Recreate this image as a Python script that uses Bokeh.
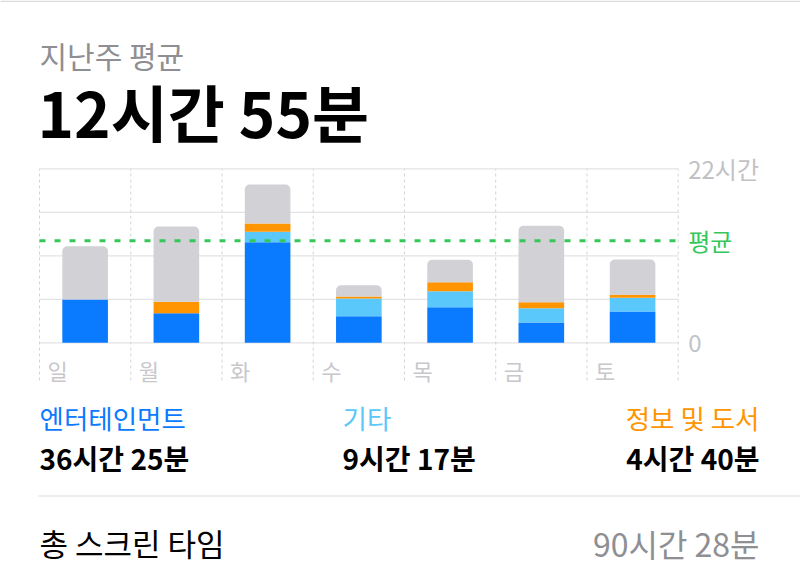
from bokeh.plotting import figure
from bokeh.models import Range1d, ColumnDataSource
from bokeh.core.properties import value
from bokeh.embed import file_html
from bokeh.resources import INLINE

# ---------------- data (hours) ----------------
days = ["일", "월", "화", "수", "목", "금", "토"]
entertainment = [5.47, 3.74, 12.72, 3.36, 4.50, 2.57, 3.96]
other = [0.00, 0.00, 1.31, 2.24, 2.02, 1.81, 1.73]
info_books = [0.00, 1.44, 1.05, 0.25, 1.14, 0.76, 0.38]
day_total = [12.20, 14.70, 20.00, 7.28, 10.49, 14.79, 10.53]
average = 12 + 55 / 60
y_ticks = [0, 5.5, 11, 16.5, 22]
y_tick_labels = {0: "0", 22: "22시간"}

title_small = "지난주 평균"
title_big = "12시간 55분"
cat_names = ["엔터테인먼트", "기타", "정보 및 도서"]
cat_totals = ["36시간 25분", "9시간 17분", "4시간 40분"]
total_label = "총 스크린 타임"
total_value = "90시간 28분"

BLUE = "#0A7AFF"
LBLUE = "#5AC8FA"
ORANGE = "#FF9500"
GREY_BAR = "#D1D1D6"
GREEN = "#34C759"
FONT = value("Noto Sans CJK KR")

W, H = 800, 580
LEFT, RIGHT = 39, 677.7      # chart columns span (page px)
ZERO_Y, TOP_Y = 342.3, 168.3  # page px of 0 h and 22 h
n = len(days)
px_per_col = (RIGHT - LEFT) / n
px_per_h = (ZERO_Y - TOP_Y) / 22


def gx(page_x):
    return (page_x - LEFT) / px_per_col


def gy(page_y):
    return (ZERO_Y - page_y) / px_per_h


p = figure(width=W, height=H, x_range=Range1d(gx(0), gx(W)), y_range=Range1d(gy(H), gy(0)),
           output_backend="svg", toolbar_location=None,
           x_axis_type=None, y_axis_type=None, min_border=0,
           outline_line_color=None, background_fill_color="white",
           border_fill_color="white")
p.xgrid.visible = False
p.ygrid.visible = False

# ---------------- header ----------------
p.segment(x0=[gx(0)], x1=[gx(W)], y0=[gy(0.8)], y1=[gy(0.8)], line_color="#DADADA",
          line_width=1.6)
p.text(x=[gx(39)], y=[gy(54)], text=[title_small], text_font=FONT, text_font_size="30px",
       text_color="#8E8E93", text_baseline="middle", text_align="left")
p.text(x=[gx(37)], y=[gy(110)], text=[title_big], text_font=FONT, text_font_size="62px",
       text_font_style="bold", text_color="#000000", text_baseline="middle",
       text_align="left")

# ---------------- chart ----------------
rest = [t - e - o - i for t, e, o, i in zip(day_total, entertainment, other, info_books)]
src = ColumnDataSource(dict(x=[k + 0.5 for k in range(n)],
                            ent=entertainment, oth=other, inf=info_books, rest=rest))

p.segment(x0=[0] * len(y_ticks), x1=[n] * len(y_ticks), y0=y_ticks, y1=y_ticks,
          line_color="#E3E3E6", line_width=1.2)
p.segment(x0=list(range(n + 1)), x1=list(range(n + 1)),
          y0=[gy(380)] * (n + 1), y1=[22] * (n + 1),
          line_color="#D4D4D8", line_width=1, line_dash="3 3")

rs = p.vbar_stack(["ent", "oth", "inf", "rest"], x="x", width=0.5,
                  color=[BLUE, LBLUE, ORANGE, GREY_BAR], line_color=None, source=src)
try:
    rs[-1].glyph.border_radius = (5, 5, 0, 0)
except Exception:
    pass

p.segment(x0=[0], x1=[n], y0=[average], y1=[average], line_color=GREEN,
          line_width=3, line_dash="6 9")

p.text(x=[n] * 2, y=[22, 0], text=[y_tick_labels[22], y_tick_labels[0]],
       x_offset=10, text_font=FONT, text_font_size="24px", text_color="#C2C2C6",
       text_baseline="middle", text_align="left")
p.text(x=[n], y=[average], text=["평균"], x_offset=10, text_font=FONT,
       text_font_size="24px", text_color=GREEN, text_baseline="middle", text_align="left")

p.text(x=[k + 8 / px_per_col for k in range(n)], y=[gy(369)] * n, text=days,
       text_font=FONT, text_font_size="22px", text_color="#C7C7CC",
       text_baseline="middle", text_align="left")

# ---------------- footer ----------------
name_x = [39, 342, 759]
aligns = ["left", "left", "right"]
colors = [BLUE, LBLUE, ORANGE]
for nm, tot, xx, al, c in zip(cat_names, cat_totals, name_x, aligns, colors):
    p.text(x=[gx(xx)], y=[gy(417)], text=[nm], text_font=FONT, text_font_size="26.5px",
           text_color=c, text_baseline="middle", text_align=al)
    p.text(x=[gx(xx)], y=[gy(457)], text=[tot], text_font=FONT, text_font_size="28px",
           text_font_style="bold", text_color="#000000", text_baseline="middle",
           text_align=al)

p.segment(x0=[gx(38)], x1=[gx(W)], y0=[gy(495.5)], y1=[gy(495.5)], line_color="#E6E6E8",
          line_width=1.5)
p.text(x=[gx(39)], y=[gy(542)], text=[total_label], text_font=FONT, text_font_size="31px",
       text_color="#000000", text_baseline="middle", text_align="left")
p.text(x=[gx(759)], y=[gy(542)], text=[total_value], text_font=FONT, text_font_size="32px",
       text_color="#8E8E93", text_baseline="middle", text_align="right")

open("out.html", "w").write(file_html(p, INLINE))
